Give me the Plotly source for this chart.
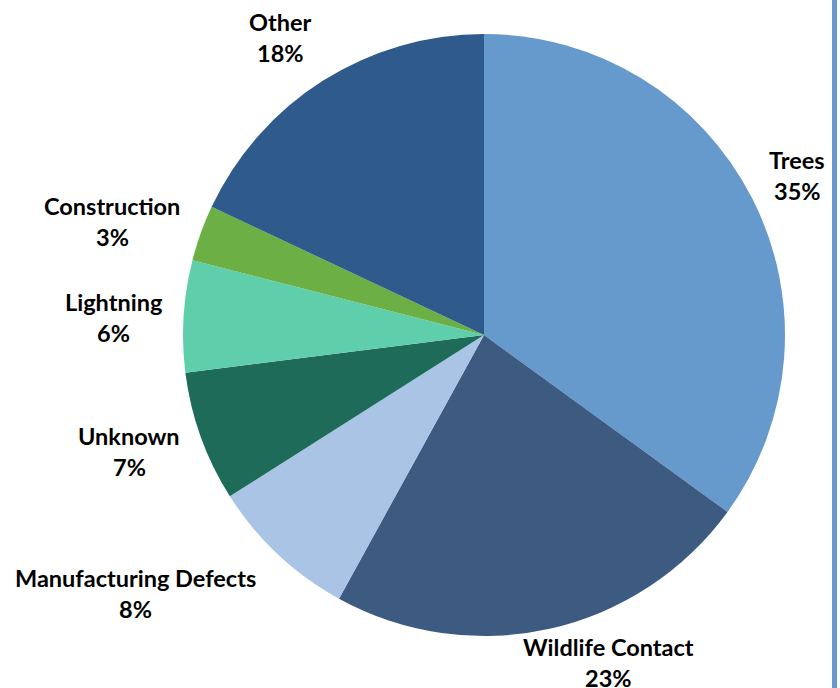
import plotly.graph_objects as go

categories = ["Trees", "Wildlife Contact", "Manufacturing Defects", "Unknown",
              "Lightning", "Construction", "Other"]
values = [35, 23, 8, 7, 6, 3, 18]
colors = ["#6699CC", "#3D5B80", "#A9C4E5", "#1E6B5A", "#5ECFAA", "#6BAF45", "#2E5B8C"]

W, H = 840, 688

# label centers (pixels) of the name line
label_pos = {
    "Trees": (797, 160),
    "Wildlife Contact": (608, 647),
    "Manufacturing Defects": (135, 578),
    "Unknown": (129, 436),
    "Lightning": (114, 302),
    "Construction": (112, 206),
    "Other": (280, 22),
}


def fx(px):
    return px / W


def fy(py):
    return 1 - py / H


fig = go.Figure(go.Pie(
    labels=categories,
    values=values,
    sort=False,
    direction="clockwise",
    rotation=0,
    marker=dict(colors=colors, line=dict(width=0)),
    textinfo="none",
    hoverinfo="label+percent",
    domain=dict(x=[fx(183), fx(785)], y=[fy(637), fy(33)]),
    showlegend=False,
))

total = sum(values)
font = dict(family="Lato, 'Open Sans', sans-serif", size=23.5, color="#000000")
for cat, val in zip(categories, values):
    px, py = label_pos[cat]
    fig.add_annotation(x=fx(px), y=fy(py), xref="paper", yref="paper",
                       text=f"<b>{cat}</b>", showarrow=False, font=font,
                       xanchor="center", yanchor="middle")
    fig.add_annotation(x=fx(px), y=fy(py + 31), xref="paper", yref="paper",
                       text=f"<b>{round(100 * val / total)}%</b>", showarrow=False, font=font,
                       xanchor="center", yanchor="middle")

# right-side blue border
fig.add_shape(type="rect", xref="paper", yref="paper",
              x0=fx(832), x1=fx(837), y0=0, y1=1,
              line=dict(width=0), fillcolor="#6699CC", layer="above")

fig.update_layout(
    width=W, height=H,
    margin=dict(l=0, r=0, t=0, b=0),
    paper_bgcolor="white",
    plot_bgcolor="white",
)

fig.write_html(
    "out.html",
    config={"displayModeBar": False},
    post_script="document.body.style.margin='0px';document.body.style.overflow='hidden';",
)
